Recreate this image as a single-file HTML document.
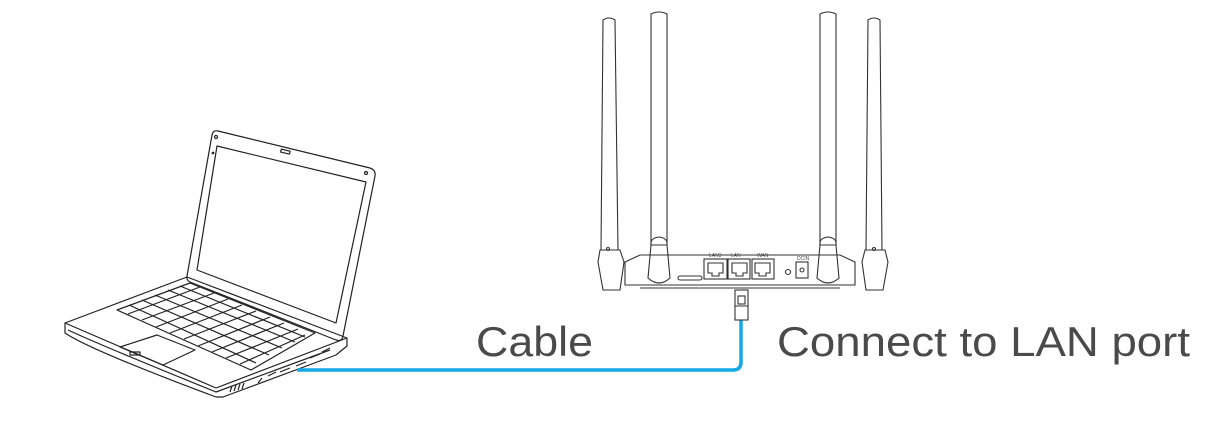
<!DOCTYPE html>
<html><head><meta charset="utf-8"><style>
html,body{margin:0;padding:0;background:#fff;width:1217px;height:425px;overflow:hidden}
svg{display:block}
text{font-family:"Liberation Sans",sans-serif;fill:#4a4a4a}
</style></head><body>
<svg width="1217" height="425" viewBox="0 0 1217 425" xmlns="http://www.w3.org/2000/svg">
<g fill="none" stroke="#222" stroke-width="1.2" stroke-linejoin="round">
<path d="M212,135 Q213,130 218,131 L370,168 Q376,170 375,176 L343,336 Q342,342 336,340 L190,282 Q186,280 187,276 Z"/>
<path d="M217,146 L366,182 L336,323 L197,270 Z"/>
<rect x="281" y="150" width="9" height="3" transform="rotate(13 285 151)"/>
<circle cx="216" cy="137" r="1.5"/><circle cx="366" cy="173" r="1.5"/><circle cx="213" cy="153" r="0.8"/>
<path d="M65,323 L187,277 L347,338 L216,388 Z"/>
<path d="M65,323 L65,333 Q90,350 216,397 L223,397 L336,355 L347,346 L347,338"/>
<path d="M68,330 Q100,345 216,392 L330,350"/>
<path d="M117,310 L190,283 L315,333 L251,370 Z"/>
<path d="M129,305 L256,363 M142,300 L269,355 M155,295 L282,348 M168,290 L295,342 M180,286 L305,337"/>
<path d="M128,314 L200,287 M142,320 L214,293 M156,327 L228,299 M170,333 L242,305 M184,339 L256,311 M198,346 L270,317 M212,352 L284,323 M226,358 L298,329 M240,364 L305,335"/>
<path d="M120,347 L157,335 L195,350 L163,365 Z"/>
<rect x="130" y="352" width="10" height="3"/>
<path d="M258,383 L262,378 M268,376 L276,372 M280,372 L290,368 M296,366 L306,362 M310,358 L320,354 M322,352 L330,348"/>
<path d="M230,392 L232,386 M234,391 L236,385 M238,390 L240,384 M242,389 L244,383"/>
</g>
<path d="M297,370 L733,370 Q741,370 741,362 L741,320" fill="none" stroke="#14a8e6" stroke-width="3.5"/>
<g fill="none" stroke="#333" stroke-width="1.1">
<path d="M603,20 Q609,16 615,20 L618,250 L601,250 Z"/>
<path d="M651,14 Q659,10 667,14 L667,245 L651,245 Z"/>
<path d="M820,14 Q828,10 836,14 L836,245 L820,245 Z"/>
<path d="M868,20 Q874,16 880,20 L882,250 L866,250 Z"/>
<path d="M600,250 L620,250 L624,262 L620,290 L603,290 L598,262 Z"/>
<path d="M865,250 L885,250 L888,262 L883,290 L866,290 L862,262 Z"/>
<circle cx="608" cy="249" r="1.5"/><circle cx="874" cy="249" r="1.5"/>
<path d="M651,245 Q650,238 659,237 Q668,238 667,245 L670,278 Q659,288 648,278 Z"/>
<path d="M820,245 Q819,238 828,237 Q837,238 836,245 L839,278 Q828,288 817,278 Z"/>
<path d="M625,262 L640,255 L840,255 L855,262 L855,285 L625,285 Z"/>
<path d="M640,288 L840,288"/>
<rect x="678" y="276" width="24" height="4" rx="2"/>
<rect x="704" y="259" width="23" height="20"/>
<rect x="728" y="259" width="22" height="20"/>
<rect x="752" y="259" width="22" height="20"/>
<path d="M708,263 h15 v10 h-4 v3 h-7 v-3 h-4 Z M732,263 h15 v10 h-4 v3 h-7 v-3 h-4 Z M755,263 h15 v10 h-4 v3 h-7 v-3 h-4 Z"/>
<circle cx="788" cy="272" r="2.5"/>
<rect x="796" y="262" width="12" height="16"/>
<circle cx="802" cy="270" r="2"/>
<rect x="735" y="290" width="13" height="30"/>
<rect x="738" y="296" width="7" height="8"/>
<path d="M735,306 h13 M739,320 h5"/>
</g>
<g font-size="5" fill="#222"><text x="709" y="257" font-size="5">LAN3</text><text x="731" y="257" font-size="5">LAN</text><text x="757" y="257" font-size="5">WAN</text><text x="797" y="260" font-size="5">DCIN</text></g>
<text x="476" y="356" font-size="42" textLength="117" lengthAdjust="spacingAndGlyphs">Cable</text>
<text x="777" y="356" font-size="42" textLength="413" lengthAdjust="spacingAndGlyphs">Connect to LAN port</text>
</svg>
</body></html>
